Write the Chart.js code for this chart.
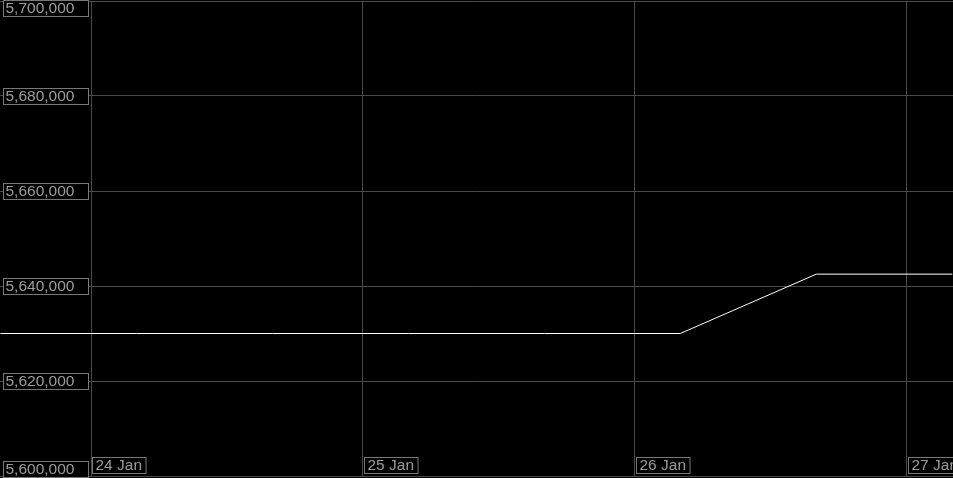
<!DOCTYPE html>
<html>
<head>
<meta charset="utf-8">
<script src="https://cdn.jsdelivr.net/npm/chart.js@4/dist/chart.umd.min.js"></script>
<style>
  html, body { margin: 0; padding: 0; background: #000; }
  #wrap { width: 953px; height: 478px; }
</style>
</head>
<body>
<div id="wrap"><canvas id="chart" width="953" height="478"></canvas></div>
<script>
// hours counted from 24 Jan 00:00
var hours = [-8, 4, 16, 28, 40, 52, 64, 76];
var values = [5630000, 5630000, 5630000, 5630000, 5630000, 5630000, 5642500, 5642500];
var dayTicks = [0, 24, 48, 72];
var dayLabels = ['24 Jan', '25 Jan', '26 Jan', '27 Jan'];

var labelFont = '15.5px "Liberation Sans", Arial, sans-serif';

// draws the boxed tick labels on top of the plot
var boxLabels = {
    id: 'boxLabels',
    afterDraw: function (chart) {
        var ctx = chart.ctx;
        var xs = chart.scales.x, ys = chart.scales.y;
        var H = chart.height;
        ctx.save();
        ctx.font = labelFont;
        ctx.textBaseline = 'middle';
        ctx.lineWidth = 1;

        ys.ticks.forEach(function (t) {
            var y = Math.round(ys.getPixelForValue(t.value));
            var top = y - 8;
            if (top < 0) top = 0;
            if (top + 16 > H - 1) top = H - 17;
            ctx.fillStyle = '#000';
            ctx.fillRect(3, top, 85, 16);
            ctx.strokeStyle = '#777777';
            ctx.strokeRect(3.5, top + 0.5, 85, 16);
            ctx.fillStyle = '#9c9c9c';
            ctx.fillText(t.value.toLocaleString('en-US'), 5.5, top + 9);
        });

        dayTicks.forEach(function (h, i) {
            var x = Math.round(xs.getPixelForValue(h));
            var w = ctx.measureText(dayLabels[i]).width;
            var left = x + 1;
            var top = H - 21;
            ctx.fillStyle = '#000';
            ctx.fillRect(left, top, w + 8, 16);
            ctx.strokeStyle = '#777777';
            ctx.strokeRect(left + 0.5, top + 0.5, w + 7, 16);
            ctx.fillStyle = '#9c9c9c';
            ctx.fillText(dayLabels[i], left + 3.5, top + 9);
        });
        ctx.restore();
    }
};

var points = hours.map(function (h, i) { return { x: h, y: values[i] }; });

new Chart(document.getElementById('chart'), {
    type: 'line',
    data: {
        datasets: [{
            data: points,
            borderColor: '#ffffff',
            borderWidth: 1,
            pointRadius: 0,
            tension: 0,
            fill: false
        }]
    },
    options: {
        responsive: false,
        animation: false,
        layout: { padding: { top: 1, bottom: 2, left: 0, right: 0 } },
        plugins: { legend: { display: false }, tooltip: { enabled: false } },
        scales: {
            x: {
                type: 'linear',
                min: -8.03,
                max: 76.06,
                afterBuildTicks: function (scale) {
                    scale.ticks = dayTicks.map(function (v) { return { value: v }; });
                },
                ticks: { display: false },
                grid: { color: '#4a4a4a', drawTicks: false },
                border: { display: false }
            },
            y: {
                min: 5600000,
                max: 5700000,
                ticks: { display: false, stepSize: 20000 },
                grid: { color: '#4a4a4a', drawTicks: false },
                border: { display: false }
            }
        }
    },
    plugins: [boxLabels]
});
</script>
</body>
</html>
